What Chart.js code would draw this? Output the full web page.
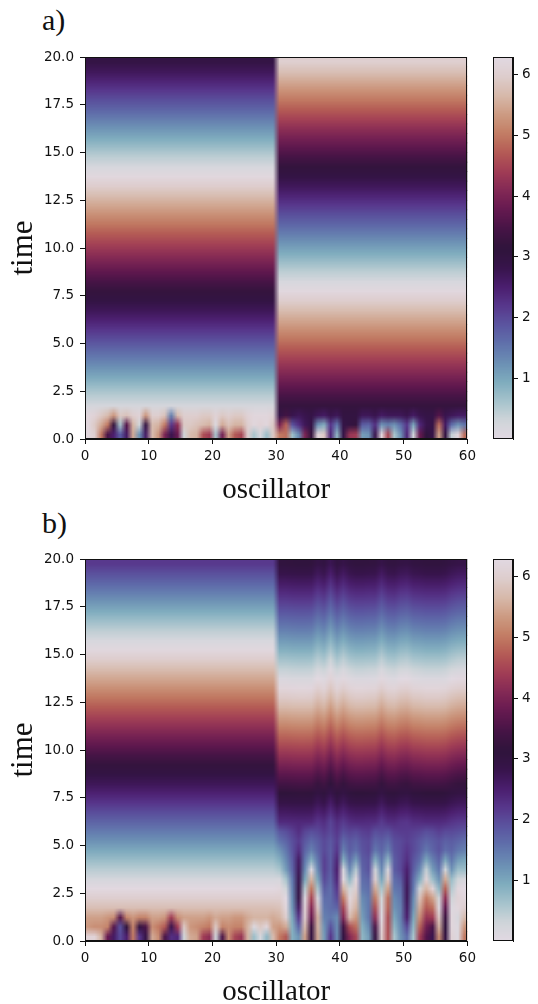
<!DOCTYPE html>
<html>
<head>
<meta charset="utf-8">
<title>Oscillator phases</title>
<script src="https://cdn.jsdelivr.net/npm/chart.js@4"></script>
<style>
    html, body { margin: 0; padding: 0; background: #fff; overflow: hidden; }
    canvas { position: absolute; }
    .panel-label { position: absolute; left: 42px; font: 30px "Liberation Serif", serif; color: #111; }
</style>
</head>
<body>
<div class="panel-label" style="top:3px">a)</div>
<div class="panel-label" style="top:506px">b)</div>
<canvas id="panel-a" width="480" height="502" style="left:0;top:0"></canvas>
<canvas id="bar-a" width="58" height="502" style="left:480px;top:0"></canvas>
<canvas id="panel-b" width="480" height="502" style="left:0;top:502px"></canvas>
<canvas id="bar-b" width="58" height="502" style="left:480px;top:502px"></canvas>
<script>
const xTicks = [0, 10, 20, 30, 40, 50, 60];
const yTicks = [0, 2.5, 5, 7.5, 10, 12.5, 15, 17.5, 20];
const barTicks = [1, 2, 3, 4, 5, 6];
const rowStep = 0.5;
const rowCount = 40;
const oscillatorCount = 60;

// phase of the two groups for each time row (bottom row first)
const aLeftPhase = [5.75, 6.00, 6.25, 0.22, 0.47, 0.72, 0.97, 1.22, 1.47, 1.72, 1.97, 2.22, 2.47, 2.72, 2.97, 3.22, 3.47, 3.72, 3.97, 4.22, 4.47, 4.72, 4.97, 5.22, 5.47, 5.72, 5.97, 6.22, 0.19, 0.44, 0.69, 0.94, 1.19, 1.44, 1.69, 1.94, 2.19, 2.44, 2.69, 2.94];
const aRightPhase = [2.47, 2.72, 2.97, 3.22, 3.47, 3.72, 3.97, 4.22, 4.47, 4.72, 4.97, 5.22, 5.47, 5.72, 5.97, 6.22, 0.19, 0.44, 0.69, 0.94, 1.19, 1.44, 1.69, 1.94, 2.19, 2.44, 2.69, 2.94, 3.19, 3.44, 3.69, 3.94, 4.19, 4.46, 4.72, 4.98, 5.24, 5.50, 5.76, 6.02];
const bLeftPhase = [5.00, 5.25, 5.50, 5.75, 6.00, 6.25, 0.22, 0.47, 0.72, 0.97, 1.22, 1.47, 1.72, 1.97, 2.22, 2.47, 2.72, 2.97, 3.22, 3.47, 3.72, 3.97, 4.22, 4.47, 4.72, 4.97, 5.22, 5.47, 5.72, 5.97, 6.22, 0.18, 0.43, 0.68, 0.93, 1.18, 1.43, 1.68, 1.93, 2.18];
// right group of b from row 12 up, the rows below are in bRightEarlyRows
const bRightPhase = [2.36, 2.62, 2.88, 3.14, 3.42, 3.70, 3.98, 4.26, 4.54, 4.82, 5.10, 5.38, 5.66, 5.92, 6.17, 0.14, 0.39, 0.64, 0.89, 1.14, 1.39, 1.63, 1.87, 2.11, 2.35, 2.59, 2.83, 3.06];
// stripes in the right group of b, one offset per oscillator 30..59
const bRightLag = [0, 0, 0.02, 0.03, 0.03, 0.02, -0.15, -0.05, -0.3, -0.05, -0.2, -0.05, 0, 0, -0.02, -0.03, -0.2, -0.05, -0.03, -0.12, -0.15, -0.05, -0.03, 0, 0, 0, -0.03, -0.12, -0.18, -0.2];

// first rows of a, all 60 oscillators
const aBottomRows = [
    [6.2, 6.0, 5.0, 3.5, 2.5, 1.8, 2.6, 5.5, 1.2, 2.6, 5.7, 5.3, 4.0, 2.8, 3.8, 0.3, 5.7, 5.6, 4.6, 4.4, 0.6, 3.9, 5.4, 4.7, 4.5, 6.0, 0.6, 0.2, 0.7, 5.9, 5.0, 4.9, 0.7, 1.3, 4.0, 3.2, 6.2, 5.9, 2.4, 0.8, 2.9, 4.3, 4.4, 1.1, 1.2, 2.8, 6.2, 4.5, 0.6, 1.2, 2.4, 0.3, 3.8, 3.1, 2.9, 5.4, 3.0, 0.4, 6.2, 4.9],
    [6.2, 5.9, 5.5, 5.0, 3.2, 0.6, 3.6, 5.6, 0.3, 3.0, 5.7, 5.6, 5.0, 2.2, 4.2, 5.9, 5.9, 5.8, 5.7, 5.6, 0.1, 5.5, 5.8, 5.6, 5.6, 6.0, 6.2, 6.1, 6.2, 5.9, 4.0, 4.8, 1.9, 2.3, 2.7, 2.9, 1.2, 0.9, 2.2, 1.5, 2.9, 3.0, 3.2, 1.8, 1.7, 2.3, 1.2, 1.4, 1.2, 1.6, 2.2, 1.0, 2.4, 2.8, 2.9, 4.9, 2.6, 1.6, 1.2, 1.5],
    [6.2, 6.1, 5.9, 5.7, 5.3, 5.9, 5.8, 6.0, 6.1, 5.3, 6.0, 6.0, 5.8, 1.4, 5.7, 6.0, 6.0, 6.0, 5.9, 5.9, 6.1, 5.9, 6.0, 5.9, 5.9, 6.1, 6.2, 6.2, 6.2, 6.1, 2.9, 3.4, 2.8, 2.7, 2.8, 2.9, 2.7, 2.6, 2.8, 2.7, 3.0, 3.0, 3.0, 2.7, 2.7, 2.8, 2.6, 2.7, 2.7, 2.7, 2.8, 2.6, 2.8, 2.9, 2.9, 3.6, 2.8, 2.7, 2.6, 2.6]
];
// first rows of b, left group
const bBottomLeftRows = [
    [6.1, 6.1, 5.6, 3.8, 2.6, 2.0, 2.5, 5.0, 2.2, 2.9, 5.5, 5.2, 3.5, 2.3, 2.4, 0.3, 5.5, 5.4, 4.4, 4.2, 0.3, 3.5, 5.2, 4.5, 4.3, 5.6, 0.7, 0.2, 0.8, 5.7],
    [5.3, 5.2, 5.2, 5.1, 3.6, 1.9, 3.1, 5.1, 3.0, 3.5, 5.2, 5.0, 4.7, 2.8, 4.4, 5.9, 5.3, 5.2, 5.1, 5.0, 5.9, 5.1, 5.2, 5.1, 5.1, 5.6, 0.1, 5.9, 6.2, 5.4],
    [5.4, 5.4, 5.4, 5.3, 5.2, 3.6, 5.1, 5.3, 5.1, 5.1, 5.4, 5.4, 5.3, 4.4, 5.2, 5.4, 5.4, 5.4, 5.4, 5.3, 5.5, 5.4, 5.4, 5.3, 5.3, 5.5, 5.6, 5.6, 5.6, 5.5]
];
// first twelve rows of b, right group
const bRightEarlyRows = [
    [5.0, 4.7, 0.9, 1.2, 5.4, 3.0, 5.5, 1.1, 2.2, 1.3, 3.0, 4.1, 4.5, 0.8, 1.1, 3.0, 6.0, 4.6, 0.6, 1.2, 1.6, 0.6, 4.4, 3.6, 2.8, 5.2, 3.0, 6.1, 0.1, 5.0],
    [5.3, 5.5, 0.9, 1.7, 5.7, 3.3, 5.6, 1.2, 1.9, 1.3, 3.4, 4.6, 4.9, 0.9, 1.3, 3.5, 6.1, 4.6, 0.8, 1.3, 2.0, 0.8, 4.8, 3.9, 3.5, 5.6, 3.1, 6.2, 0.1, 5.3],
    [5.6, 6.0, 1.0, 2.2, 6.0, 3.8, 5.6, 1.4, 1.5, 1.3, 4.1, 5.7, 5.3, 1.1, 1.5, 4.2, 0.1, 4.6, 1.0, 1.4, 2.5, 1.0, 5.2, 4.3, 4.4, 5.9, 3.3, 6.2, 0.2, 5.7],
    [5.8, 6.2, 1.2, 2.6, 6.1, 4.1, 5.9, 1.5, 1.6, 1.7, 4.5, 6.0, 5.6, 1.2, 1.5, 4.6, 0.2, 4.8, 1.2, 1.4, 2.6, 1.2, 5.5, 4.7, 4.9, 0.1, 3.7, 0.1, 6.2, 6.0],
    [6.0, 0.0, 1.3, 2.9, 0.1, 4.5, 0.2, 1.6, 1.6, 2.0, 5.0, 6.2, 5.8, 1.3, 1.5, 5.0, 0.3, 4.9, 1.3, 1.5, 2.7, 1.3, 5.8, 5.0, 5.4, 0.3, 4.2, 0.3, 6.1, 6.2],
    [6.2, 0.3, 1.4, 2.9, 0.5, 5.0, 0.6, 1.8, 1.6, 2.2, 5.6, 0.3, 6.0, 1.5, 1.6, 5.5, 0.6, 5.4, 1.5, 1.6, 2.7, 1.5, 0.3, 5.6, 6.1, 0.8, 4.8, 0.5, 6.2, 0.0],
    [0.2, 0.6, 1.5, 2.8, 1.0, 5.6, 1.0, 2.0, 1.7, 2.4, 6.2, 0.8, 6.2, 1.6, 1.7, 6.0, 1.0, 5.9, 1.6, 1.8, 2.6, 1.6, 0.9, 6.1, 0.7, 1.2, 5.5, 0.7, 0.3, 0.2],
    [0.6, 1.1, 1.7, 2.7, 1.3, 0.1, 1.3, 2.1, 1.8, 2.5, 0.2, 1.3, 0.5, 1.7, 1.9, 0.3, 1.3, 0.2, 1.8, 2.0, 2.5, 1.8, 1.3, 0.4, 1.1, 1.5, 0.3, 1.2, 0.7, 0.7],
    [0.9, 1.3, 1.8, 2.6, 1.5, 0.9, 1.5, 2.1, 1.8, 2.4, 0.9, 1.6, 1.1, 1.8, 1.9, 0.9, 1.5, 0.8, 1.8, 2.0, 2.3, 1.9, 1.6, 1.0, 1.4, 1.7, 1.0, 1.5, 1.1, 1.0],
    [1.2, 1.5, 1.9, 2.3, 1.7, 1.4, 1.7, 2.0, 1.8, 2.2, 1.4, 1.8, 1.6, 1.9, 2.0, 1.5, 1.7, 1.4, 1.9, 2.0, 2.2, 2.0, 1.8, 1.5, 1.7, 1.9, 1.6, 1.7, 1.5, 1.4],
    [1.55, 1.7, 1.95, 2.15, 1.85, 1.65, 1.8, 2.0, 1.85, 2.1, 1.65, 1.85, 1.75, 1.95, 2.0, 1.7, 1.8, 1.65, 1.95, 2.0, 2.1, 2.0, 1.85, 1.7, 1.8, 1.9, 1.75, 1.8, 1.7, 1.6],
    [1.85, 1.95, 2.1, 2.3, 2.05, 1.95, 2.0, 2.15, 2.0, 2.2, 1.95, 2.05, 2.0, 2.1, 2.15, 1.95, 2.0, 1.95, 2.1, 2.15, 2.15, 2.1, 2.05, 1.95, 2.0, 2.1, 2.0, 2.0, 1.95, 1.9]
];

// twilight colormap, 21 evenly spaced stops
const twilightStops = [
    [226, 217, 226], [207, 213, 217], [165, 195, 204], [127, 172, 190], [107, 143, 180],
    [96, 113, 172], [91, 85, 160], [88, 55, 140], [75, 30, 110], [55, 20, 75],
    [47, 20, 59], [70, 20, 70], [100, 25, 80], [130, 40, 85], [160, 60, 85],
    [180, 90, 85], [195, 125, 100], [205, 155, 130], [215, 185, 170], [222, 205, 205], [226, 217, 226]
];
const TAU = Math.PI * 2;

function phaseColor(phase) {
    const wrapped = ((phase % TAU) + TAU) % TAU;
    const pos = wrapped / TAU * (twilightStops.length - 1);
    const i = Math.min(Math.floor(pos), twilightStops.length - 2);
    const f = pos - i;
    const mix = twilightStops[i].map((c, k) => Math.round(c + (twilightStops[i + 1][k] - c) * f));
    return `rgb(${mix[0]},${mix[1]},${mix[2]})`;
}

function phaseA(row, osc) {
    if (row < aBottomRows.length) return aBottomRows[row][osc];
    return osc < 30 ? aLeftPhase[row] : aRightPhase[row];
}

function phaseB(row, osc) {
    if (osc < 30) {
        return row < bBottomLeftRows.length ? bBottomLeftRows[row][osc] : bLeftPhase[row];
    }
    if (row < bRightEarlyRows.length) return bRightEarlyRows[row][osc - 30];
    return bRightPhase[row - bRightEarlyRows.length] + bRightLag[osc - 30];
}

// one dataset per time row, one floating bar per oscillator
function buildRows(phaseFn) {
    const datasets = [];
    for (let row = 0; row < rowCount; row++) {
        const data = [];
        const colors = [];
        for (let osc = 0; osc < oscillatorCount; osc++) {
            data.push({ x: osc + 0.5, y: [row * rowStep, (row + 1) * rowStep] });
            colors.push(phaseColor(phaseFn(row, osc)));
        }
        datasets.push({ data: data, backgroundColor: colors, grouped: false, barPercentage: 1, categoryPercentage: 1 });
    }
    return datasets;
}

// imshow(interpolation='bilinear') look: pick each cell's colour and scale it back up smoothed
const smoothCells = {
    id: 'smoothCells',
    afterDatasetsDraw(chart, args, opts) {
        const area = chart.chartArea;
        const small = document.createElement('canvas');
        small.width = opts.cols;
        small.height = opts.rows;
        const sctx = small.getContext('2d');
        sctx.imageSmoothingEnabled = false;
        sctx.drawImage(chart.canvas, area.left, area.top, area.width, area.height, 0, 0, opts.cols, opts.rows);
        const ctx = chart.ctx;
        ctx.save();
        ctx.imageSmoothingEnabled = true;
        ctx.drawImage(small, area.left, area.top, area.width, area.height);
        ctx.restore();
    }
};

const frame = {
    id: 'frame',
    afterDraw(chart) {
        const area = chart.chartArea;
        const ctx = chart.ctx;
        ctx.save();
        ctx.strokeStyle = '#111';
        ctx.lineWidth = 1;
        ctx.strokeRect(Math.round(area.left) + 0.5, Math.round(area.top) + 0.5, Math.round(area.width) - 1, Math.round(area.height) - 1);
        ctx.restore();
    }
};

const tickFont = { family: '"DejaVu Sans"', size: 13.5 };

function makePanel(id, phaseFn) {
    new Chart(document.getElementById(id), {
        type: 'bar',
        data: { datasets: buildRows(phaseFn) },
        plugins: [smoothCells, frame],
        options: {
            responsive: false,
            animation: false,
            events: [],
            layout: { padding: { top: 57, right: 12.5, left: 0, bottom: 0 } },
            plugins: {
                legend: { display: false },
                tooltip: { enabled: false },
                smoothCells: { cols: oscillatorCount, rows: rowCount }
            },
            scales: {
                x: {
                    type: 'linear',
                    offset: false,
                    min: 0,
                    max: 60,
                    afterFit: (s) => { s.height = 63; },
                    afterBuildTicks: (s) => { s.ticks = xTicks.map((v) => ({ value: v })); },
                    grid: { offset: false, drawOnChartArea: false, color: '#111', tickLength: 5 },
                    border: { color: '#111' },
                    ticks: { font: tickFont, color: '#111', padding: 4, maxRotation: 0, callback: (v) => String(v) },
                    title: { display: true, text: 'oscillator', color: '#111', padding: 0, font: { family: '"Liberation Serif"', size: 29, lineHeight: 0.8 } }
                },
                y: {
                    min: 0,
                    max: 20,
                    beginAtZero: false,
                    afterFit: (s) => { s.width = 85; },
                    afterBuildTicks: (s) => { s.ticks = yTicks.map((v) => ({ value: v })); },
                    grid: { drawOnChartArea: false, color: '#111', tickLength: 5 },
                    border: { color: '#111' },
                    ticks: { font: tickFont, color: '#111', padding: 6, callback: (v) => v.toFixed(1) },
                    title: { display: true, text: 'time', color: '#111', padding: { top: 8, bottom: 0 }, font: { family: '"Liberation Serif"', size: 31, lineHeight: 1 } }
                }
            }
        }
    });
}

function makeColorbar(id) {
    const levels = 64;
    const top = 6.29;
    const data = [];
    const colors = [];
    for (let i = 0; i < levels; i++) {
        data.push({ x: 0.5, y: [top * i / levels, top * (i + 1) / levels] });
        colors.push(phaseColor(top * (i + 0.5) / levels));
    }
    new Chart(document.getElementById(id), {
        type: 'bar',
        data: { datasets: data.map((d, i) => ({ data: [d], backgroundColor: colors[i], grouped: false, barPercentage: 1, categoryPercentage: 1 })) },
        plugins: [smoothCells, frame],
        options: {
            responsive: false,
            animation: false,
            events: [],
            layout: { padding: { top: 57, left: 13, right: 0, bottom: 63 } },
            plugins: {
                legend: { display: false },
                tooltip: { enabled: false },
                smoothCells: { cols: 1, rows: levels }
            },
            scales: {
                x: { type: 'linear', offset: false, min: 0, max: 1, display: false, grid: { offset: false } },
                y: {
                    position: 'right',
                    min: 0,
                    max: top,
                    beginAtZero: false,
                    afterFit: (s) => { s.width = 25; },
                    afterBuildTicks: (s) => { s.ticks = barTicks.map((v) => ({ value: v })); },
                    grid: { drawOnChartArea: false, color: '#111', tickLength: 5 },
                    border: { color: '#111' },
                    ticks: { font: tickFont, color: '#111', padding: 4, callback: (v) => String(v) }
                }
            }
        }
    });
}

makePanel('panel-a', phaseA);
makeColorbar('bar-a');
makePanel('panel-b', phaseB);
makeColorbar('bar-b');
</script>
</body>
</html>
